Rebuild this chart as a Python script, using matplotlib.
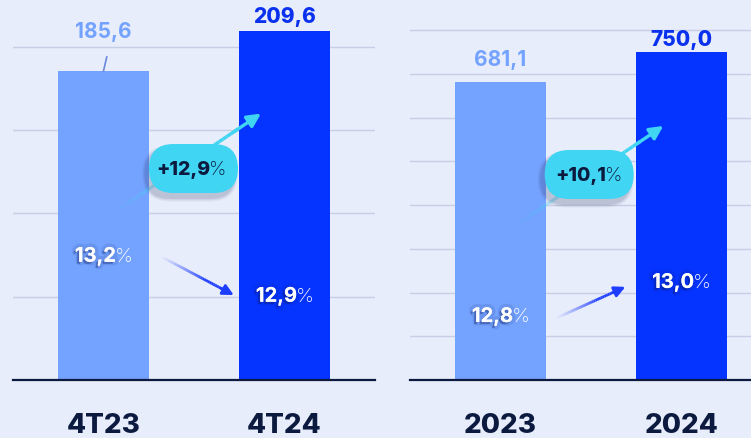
import numpy as np
import matplotlib
matplotlib.use("Agg")
import matplotlib.pyplot as plt
import matplotlib.patheffects as pe
from matplotlib.patches import FancyBboxPatch
from matplotlib.collections import LineCollection
from matplotlib.transforms import ScaledTranslation

# ======================
# DATA
# ======================
quarters = ["4T23", "4T24"]
quarter_values = [185.6, 209.6]
quarter_labels = ["185,6", "209,6"]
quarter_margin = ["13,2", "12,9"]
quarter_growth = "+12,9"

years = ["2023", "2024"]
year_values = [681.1, 750.0]
year_labels = ["681,1", "750,0"]
year_margin = ["12,8", "13,0"]
year_growth = "+10,1"

# ======================
# STYLE
# ======================
BG = "#e8edfb"
LIGHT = "#74a2ff"
DARK = "#0533ff"
NAVY = "#0b1a3e"
CYAN = "#40d5f2"
GRID = "#c8cee3"
FONT = ["Inter", "DejaVu Sans"]

plt.rcParams["font.family"] = FONT

fig = plt.figure(figsize=(7.51, 4.38), dpi=100, facecolor=BG)
ax1 = fig.add_axes([13 / 751, 58 / 438, 362 / 751, 380 / 438])
ax2 = fig.add_axes([410 / 751, 58 / 438, 341 / 751, 380 / 438])

shadow = [pe.withSimplePatchShadow(offset=(-1.5, -1.5), shadow_rgbFace="#0a1a60",
                                   alpha=0.35),
          pe.Stroke(linewidth=5, foreground="#0a1a60", alpha=0.10),
          pe.Normal()]


def pct_text(ax, x, y, num, color, size, weight="bold", effects=None, dx=9):
    ax.annotate(num, (x, y), xytext=(dx, 0), textcoords="offset points",
                ha="right", va="center", fontsize=size, color=color,
                fontweight=weight, path_effects=effects, zorder=6)
    ax.annotate("%", (x, y), xytext=(dx - 0.6, 0), textcoords="offset points",
                ha="left", va="center", fontsize=size, color=color,
                fontweight="light", zorder=6)


def fade_arrow(ax, p0, p1, color, lw, head, zorder=3):
    t = np.linspace(0, 1, 40)
    xs = p0[0] + (p1[0] - p0[0]) * t
    ys = p0[1] + (p1[1] - p0[1]) * t
    pts = np.column_stack([xs, ys]).reshape(-1, 1, 2)
    segs = np.concatenate([pts[:-1], pts[1:]], axis=1)
    rgba = np.array([matplotlib.colors.to_rgba(color)] * len(segs))
    rgba[:, 3] = np.clip(t[1:] * 1.6, 0, 1) ** 1.2
    lc = LineCollection(segs[:-6], colors=rgba[:-6], linewidths=lw,
                        capstyle="butt", zorder=zorder)
    ax.add_collection(lc)
    ax.annotate("", xy=p1, xytext=(xs[-8], ys[-8]),
                arrowprops=dict(arrowstyle="-|>", color=color, lw=lw,
                                mutation_scale=head, shrinkA=0, shrinkB=0),
                zorder=zorder)


def pill(ax, x, y, text, w=0.89, h=0.49):
    base = fig.dpi_scale_trans + ScaledTranslation(x, y, ax.transData)
    for k, a in [(0.07, 0.05), (0.045, 0.07), (0.02, 0.10)]:
        sh = FancyBboxPatch((-w / 2 - 0.035 - k / 2, -h / 2 - 0.05 - k / 2),
                            w + k, h + k,
                            boxstyle=f"round,pad=0,rounding_size={(h + k) / 2}",
                            fc="#1a2450", ec="none", alpha=a,
                            transform=base, zorder=7, clip_on=False)
        ax.add_patch(sh)
    p = FancyBboxPatch((-w / 2, -h / 2), w, h,
                       boxstyle=f"round,pad=0,rounding_size={h / 2}",
                       fc=CYAN, ec="none", transform=base, zorder=8,
                       clip_on=False)
    ax.add_patch(p)
    ax.annotate(text, (x, y), xytext=(12, -1), textcoords="offset points",
                ha="right", va="center", fontsize=14, color=NAVY,
                fontweight="heavy", zorder=9)
    ax.annotate("%", (x, y), xytext=(11.4, -1), textcoords="offset points",
                ha="left", va="center", fontsize=14, color=NAVY,
                fontweight="light", zorder=9)


def panel(ax, cats, vals, labels, margins, growth, ylim, grid, xmax,
          lab_off, margin_y, blue_arrow, cyan_arrow, pill_xy):
    ax.set_facecolor("none")
    ax.set_xlim(-0.5, xmax)
    ax.set_ylim(0, ylim)
    for s in ax.spines.values():
        s.set_visible(False)
    ax.set_xticks([])
    ax.set_yticks([])
    for g in grid:
        ax.axhline(g, color=GRID, lw=1, zorder=0)
    ax.axhline(0, color=NAVY, lw=1.6, zorder=5, clip_on=False)

    x = np.arange(len(cats))
    ax.bar(x, vals, width=0.5, color=[LIGHT, DARK], zorder=2)

    colors = [LIGHT, "#0a31ee"]
    weights = ["bold", "heavy"]
    for i in range(len(cats)):
        ax.annotate(labels[i], (x[i], vals[i]), xytext=(0, lab_off[i]),
                    textcoords="offset points", ha="center", va="center",
                    fontsize=15, fontweight=weights[i], color=colors[i],
                    zorder=6)
        ax.annotate(cats[i], (x[i], 0), xytext=(0, -33),
                    textcoords="offset points", ha="center", va="center",
                    fontsize=20, fontweight="heavy", color=NAVY,
                    annotation_clip=False)
        pct_text(ax, x[i], margin_y[i], margins[i], "white", 14.5,
                 effects=shadow)

    fade_arrow(ax, blue_arrow[0], blue_arrow[1], "#1d3dff", 2.0, 16)
    fade_arrow(ax, cyan_arrow[0], cyan_arrow[1], CYAN, 2.4, 20)
    pill(ax, pill_xy[0], pill_xy[1], growth)


panel(ax1, quarters, quarter_values, quarter_labels, quarter_margin,
      quarter_growth, 228.2, [50, 100, 150, 200], 1.5,
      [28, 10], [74, 50],
      [(0.32, 74), (0.72, 51)], [(0.05, 100), (0.87, 160)], (0.497, 127))
ax1.plot([0.0, 0.018], [185.6, 194], color="#6a88dc", lw=1.2, zorder=3)

panel(ax2, years, year_values, year_labels, year_margin,
      year_growth, 869, [100, 200, 300, 400, 500, 600, 700, 800], 1.384,
      [16, 9], [144, 222],
      [(0.31, 142), (0.69, 213)], [(0.07, 350), (0.9, 581)], (0.49, 470))

plt.savefig("out.png", dpi=100, facecolor=BG)
